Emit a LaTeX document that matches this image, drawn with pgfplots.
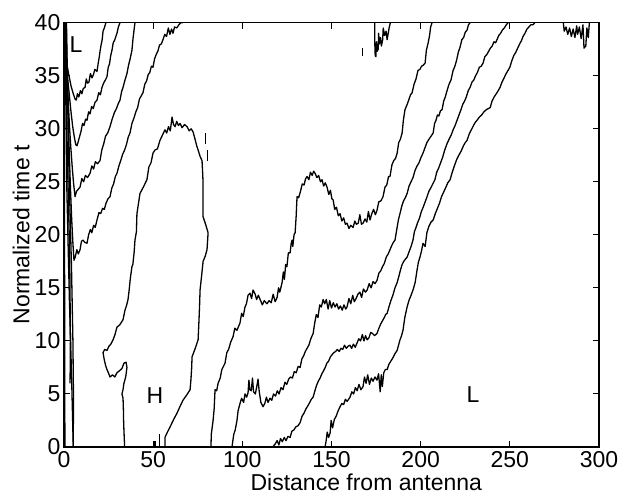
\documentclass[border=0pt]{standalone}
\usepackage{fontspec}
\setmainfont{Liberation Sans}
\usepackage{pgfplots}
\pgfplotsset{compat=1.18}
\begin{document}
\fontsize{23}{27}\selectfont
\begin{tikzpicture}
\begin{axis}[
 at={(0,0)}, anchor=south west,
 width=535pt, height=424.3pt, scale only axis,
 xmin=0,xmax=300,ymin=0,ymax=40,
 xtick={0,50,...,300}, ytick={0,5,...,40},
 tick align=inside, xtick pos=both, ytick pos=both,
 major tick length=6pt,
 axis line style={line width=1.3pt},
 every tick/.style={black, line width=1pt},
 /pgf/number format/assume math mode=true,
 tick label style={font=\fontsize{23}{27}\selectfont, inner sep=1pt},
 xticklabel style={yshift=-3.5pt},
 yticklabel style={xshift=-2.5pt},
 xlabel={Distance from antenna}, ylabel={Normalized time t},
 xlabel style={font=\fontsize{23}{27}\selectfont, at={(axis description cs:0.565,0)}, anchor=north, yshift=-27pt, inner sep=0pt},
 ylabel style={font=\fontsize{23}{27}\selectfont, at={(axis description cs:-0.08,0.5)}, anchor=center},
 cycle list={{black, solid, mark=none, line width=1.3pt}},
 every axis plot post/.append style={black, solid, mark=none, line width=1.3pt, line join=round},
 clip=true,
]
% left U contours
\addplot coordinates {(0.3,40) (0.4,38.5) (0.8,37) (1.7,36) (2.8,35) (4,34) (5.2,33.3) (6.2,32.8) (6.9,32.7) (7.5,33.3) (8.3,33.0) (9.2,33.6) (10,33.3) (10.8,33.8) (11.8,33.9) (12.5,34.7) (13.2,34.3) (14,34.4) (14.8,35.2) (15.7,34.8) (16.5,35.1) (17.3,35.6) (18.5,35.4) (19.2,36.2) (19.8,36.8) (20.2,37.3) (20.8,37.9) (21.4,38.4) (21.9,39.2) (22.6,39.5) (23.5,40)};
\addplot coordinates {(0.6,40) (0.8,38) (1.2,36.5) (1.8,35.2) (2.8,33.5) (3.8,31.8) (4.8,30.3) (5.8,29.2) (6.6,28.5) (7.3,28.4) (8.0,28.8) (8.8,29.3) (9.6,29.8) (10.4,30.5) (11.2,30.3) (12.1,30.9) (12.9,30.8) (13.8,31.6) (14.6,31.4) (15.5,32.1) (16.4,31.9) (17.4,32.5) (18.5,32.7) (19.5,33.4) (20.4,33.2) (21.3,33.9) (22.2,34.3) (23.2,34.6) (24.1,34.9) (24.8,35.8) (25.5,36.1) (26.2,36.9) (26.9,37.4) (27.6,38.1) (28.5,38.4) (29.7,39) (30.5,39.6) (31.4,40)};
\addplot coordinates {(1.0,40) (1.3,37) (1.8,34.5) (2.4,32.5) (3.1,30.2) (3.8,28.3) (4.6,26.4) (5.4,24.8) (6.2,23.6) (7.0,24.1) (8.0,24.3) (9.0,24.5) (10.0,25.3) (11.0,25.0) (12.0,25.6) (13.2,25.4) (14.6,25.8) (15.6,26.5) (16.6,26.2) (17.6,26.9) (18.8,26.7) (20.2,27.0) (21.2,28.0) (22.3,28.6) (23.3,29.3) (24.5,29.6) (25.8,30.2) (27,30.9) (28.2,31.5) (29.4,31.9) (30.5,32.4) (31.4,32.7) (32.3,33.5) (33.1,33.9) (34.2,34.6) (35.3,35.2) (36.2,36.0) (37.1,36.6) (38.1,37.4) (38.7,38.5) (39.2,39.2) (39.8,40)};
\addplot coordinates {(1.4,40) (1.8,36) (2.3,32) (2.9,28) (3.6,24.5) (4.3,21.5) (5.0,19.2) (5.6,17.6) (6.3,17.9) (7.2,18.6) (8.0,18.2) (9.0,18.6) (9.8,19.4) (10.7,19.5) (11.6,19.3) (12.9,19.2) (13.8,20.0) (14.8,20.5) (15.6,20.2) (16.6,20.9) (17.5,20.7) (18.5,21.4) (19.6,22.1) (20.6,22.0) (21.6,22.5) (22.6,22.4) (23.6,23.0) (24.7,23.4) (25.8,23.6) (26.8,24.4) (27.8,24.8) (28.8,25.5) (29.7,25.8) (30.8,26.5) (31.8,27.0) (32.9,27.6) (34.0,28.0) (35.0,28.5) (36.0,29.2) (37.0,29.6) (38.1,30.5) (39.2,31.0) (40.3,31.6) (41.3,32.0) (42.3,32.8) (43.3,33.1) (44.3,33.4) (45.3,34.2) (46.3,34.5) (47.2,35.1) (48.1,35.3) (49.0,35.9) (49.9,35.8) (50.8,36.6) (51.7,37.0) (52.6,37.3) (53.6,37.9) (54.6,38.0) (55.5,38.4) (56.5,38.9) (57.5,38.7) (58.5,39.5) (59.4,38.9) (60.3,39.4) (61.1,39.0) (62,39.6) (63.2,39.5) (64.4,39.8) (65.5,40.0) (66.7,40)};
% left bundle
\addplot coordinates {(0.2,40) (0.3,20) (0.5,0)};
\addplot coordinates {(0.6,40) (1.5,25) (3.0,14) (4.2,7) (5.2,0)};
\addplot coordinates {(1.2,40) (2.8,26) (4.2,17) (5.0,10) (5.3,5) (5.2,0)};
\addplot coordinates {(0.9,40) (1.8,28) (3.2,18) (3.6,10) (3.4,6)};
% H contour
\addplot coordinates {(34.0,0) (33.8,0.8) (33.6,1.6) (33.4,2.6) (33.3,3.6) (33.1,4.6) (32.5,5.0) (33.1,5.4) (33.6,6.0) (34.6,6.6) (35.3,7.5) (34.8,8.0) (33.6,7.9) (32.5,7.4) (31.2,7.2) (29.7,7.0) (28.5,6.6) (27.2,6.8) (25.8,6.6) (24.9,7.0) (24.1,7.3) (23.3,7.7) (22.5,8.3) (21.9,8.9) (22.8,9.2) (24.1,9.1) (25.2,9.5) (26.3,9.7) (27.5,10.1) (28.6,10.6) (29.7,11.3) (31.2,11.5) (33.1,12.0) (34.2,12.9) (35.0,13.3) (35.9,13.9) (36.6,14.9) (37.2,15.9) (38.1,17.0) (38.6,17.2) (39.3,18.3) (39.8,19.5) (40.6,20.3) (40.9,22.0) (41.8,23.0) (42.6,23.9) (44.5,24.5) (46.5,25.2) (47.6,26.4) (48.8,26.8) (49.9,27.7) (51.0,28.0) (52.4,28.1) (53.8,28.9) (55.2,29.4) (56.6,29.9) (57.6,29.6) (58.6,30.2) (59.6,29.8) (60.6,31.1) (61.4,30.4) (62.3,30.2) (63.2,30.7) (64.2,30.3) (65.1,30.5) (66.2,30.1) (67.6,30.4) (69.0,30.2) (70.2,29.8) (71.3,30.0) (72.4,29.7) (73.5,29.0) (74.4,28.4) (75.2,28.0) (76.3,27.4) (77.4,27.0) (77.7,26.0) (78.0,24.9) (78.0,23.3) (78.0,21.7) (79.4,21.0) (80.8,20.2) (80.2,18.6) (79.2,18.0) (78.0,17.5) (77.2,16.2) (76.3,14.8) (76.0,13.2) (75.6,11.6) (75.2,10.1) (73.6,9.3) (71.8,8.5) (71.6,7.5) (71.2,6.4) (70.7,5.4) (68.8,4.9) (66.7,4.4) (65.0,3.8) (63.4,3.2) (61.5,2.6) (59.5,1.9) (58.0,1.4) (56.6,0.9) (56.6,0)};
\addplot coordinates {(51,0) (51,0.6)};
\addplot coordinates {(53.5,0) (53.5,1.2)};
% line 6
\addplot coordinates {(82.4,0) (82.6,1.2) (83.6,2.5) (84.2,3.6) (84.7,5.4) (85.6,5.3) (86.4,6.0) (87.6,6.5) (88.5,7.3) (90.3,7.9) (91.3,8.9) (92.3,9.2) (93.5,9.9) (94.8,10.4) (95.8,11.2) (97.0,11.0) (98.7,11.7) (99.6,12.6) (100.5,12.3) (101.5,13.2) (102.3,13.5) (103.2,14.3) (104.3,14.5) (105.2,14.0) (106.0,14.8) (107.2,14.4) (108.0,13.9) (109.0,14.3) (110.0,13.9) (111.2,13.4) (112.3,13.8) (113.8,13.5) (115.0,13.8) (116.2,13.6) (117.3,14.4) (118.4,13.7) (119.5,14.1) (120.3,15.0) (121.0,14.6) (122.3,15.5) (123.0,16.5) (123.6,15.8) (124.3,17.2) (125.0,17.0) (125.8,18.3) (126.8,18.3) (127.4,19.2) (127.9,19.5) (128.3,18.9) (129.0,20.0) (129.6,20.2) (130.2,21.8) (130.5,23.0) (130.7,23.6) (131.6,23.5) (132.6,24.1) (133.6,24.8) (134.6,24.7) (135.5,25.3) (136.3,25.5) (137.3,25.2) (138.2,25.9) (139.2,25.6) (140.0,26.0) (140.8,25.8) (141.8,25.4) (142.8,25.6) (143.8,25.0) (144.7,25.2) (145.6,24.6) (146.5,24.9) (147.5,24.5) (148.5,23.8) (149.4,24.2) (150.2,23.4) (150.9,23.3) (151.8,22.4) (152.8,22.6) (153.8,21.8) (154.8,22.0) (155.8,21.3) (156.8,21.6) (157.8,21.0) (158.7,21.1) (159.8,20.6) (160.8,20.9) (162.1,20.7) (163.1,21.3) (164.0,21.0) (165.0,21.1) (165.9,21.9) (166.8,21.0) (167.7,21.1) (168.8,21.5) (169.8,21.2) (170.7,22.2) (171.6,21.4) (172.6,22.0) (173.6,22.4) (174.6,21.9) (175.5,22.3) (176.5,23.1) (177.7,23.2) (178.9,23.6) (180.0,24.5) (181.0,24.7) (182.0,25.5) (182.8,25.5) (183.9,26.6) (184.9,27.0) (185.9,27.2) (186.8,27.7) (187.7,28.7) (188.6,29.0) (189.6,29.6) (190.3,30.8) (191.2,31.8) (192.2,32.2) (193.3,32.7) (194.3,33.2) (195.2,33.4) (196.3,34.2) (197.4,34.7) (198.5,35.5) (199.6,35.6) (200.5,35.9) (201.5,36.0) (202.5,36.2) (203.2,37.4) (204.2,38.1) (205.0,38.8) (205.6,39.6) (206.4,40)};
% line 7
\addplot coordinates {(94.2,0) (95.2,1.2) (96.0,1.6) (97.0,2.5) (97.6,3.4) (98.7,4.1) (99.6,4.6) (100.7,4.2) (101.5,5.0) (102.4,4.7) (103.2,5.1) (103.7,6.3) (104.2,5.4) (105.0,5.3) (105.7,6.5) (106.3,5.2) (107.3,5.0) (108.1,5.7) (108.8,6.4) (109.5,5.2) (110.4,4.2) (111.6,3.8) (112.6,4.1) (113.5,4.7) (114.4,4.2) (115.5,4.6) (116.5,4.4) (117.5,5.0) (118.6,4.8) (119.6,5.3) (120.6,5.0) (121.7,5.6) (122.8,5.4) (123.9,6.1) (124.9,5.9) (126.0,6.4) (127.0,6.6) (128.1,6.5) (129.1,7.1) (130.2,7.0) (131.3,7.6) (132.4,7.5) (133.4,8.3) (134.4,8.6) (135.3,9.0) (136.3,9.3) (137.3,9.6) (138.4,10.2) (139.7,10.7) (140.6,11.7) (141.5,12.5) (142.4,12.2) (143.4,13.4) (144.3,13.2) (145.3,13.9) (146.2,13.5) (147.1,13.9) (148.1,13.0) (149.0,13.8) (150.0,13.1) (151.0,13.6) (152.0,13.2) (153.0,13.5) (154.0,13.0) (155.0,13.3) (156.0,12.9) (157.0,13.4) (158.0,13.0) (158.7,13.2) (159.8,14.0) (160.8,13.5) (161.9,14.3) (162.8,13.7) (163.8,14.0) (164.8,14.4) (165.9,14.6) (166.9,14.1) (167.9,14.9) (169.0,14.6) (170.0,14.8) (171.1,15.4) (172.2,15.0) (173.3,15.6) (174.4,15.4) (175.5,15.7) (176.6,16.4) (177.6,16.6) (178.6,17.0) (179.6,17.3) (180.7,17.9) (181.8,18.2) (182.8,18.6) (183.8,19.0) (184.7,19.3) (185.6,19.5) (186.6,20.5) (187.5,21.4) (188.4,22.0) (189.4,22.7) (190.4,23.2) (191.4,23.5) (192.4,23.9) (193.5,24.6) (194.6,25.0) (195.7,25.4) (196.9,26.1) (198.0,26.5) (199.1,26.8) (200.2,27.3) (201.3,27.7) (202.4,28.2) (203.5,28.7) (204.6,29.0) (205.8,29.3) (207.0,29.6) (207.8,30.5) (208.6,30.8) (209.4,31.3) (210.2,31.2) (211.1,31.7) (212.0,31.8) (212.9,32.6) (213.8,33.0) (214.8,33.6) (215.9,34.2) (217.0,34.6) (218.2,35.5) (219.2,35.9) (220.2,36.5) (221.1,37.2) (222.1,37.7) (223.1,38.4) (224.1,38.6) (225.0,39.1) (226.0,39.3) (226.8,39.8) (227.7,40)};
% line 8
\addplot coordinates {(117.0,0) (118.5,0.3) (119.5,0.6) (120.5,0.2) (121.4,0.8) (122.4,0.5) (123.5,0.9) (124.5,0.6) (125.6,1.0) (126.8,0.9) (127.8,1.5) (128.9,1.6) (130.0,1.9) (131.2,2.0) (132.4,2.3) (133.5,2.9) (134.6,3.2) (135.7,3.6) (136.8,3.9) (137.8,4.2) (138.7,4.5) (139.7,4.7) (140.7,5.3) (141.6,5.8) (142.6,6.2) (143.6,6.5) (144.6,6.9) (145.6,7.2) (146.5,7.5) (147.4,7.9) (148.4,8.1) (149.4,8.5) (150.3,8.7) (151.3,8.9) (152.3,9.0) (153.3,9.2) (154.3,9.0) (155.3,9.3) (156.3,9.2) (157.3,9.6) (158.3,9.3) (159.3,9.5) (160.3,9.6) (161.3,9.3) (162.3,9.7) (163.3,9.4) (164.3,9.8) (165.3,10.2) (166.3,10.0) (167.3,10.6) (168.2,10.0) (169.1,10.5) (170.0,10.1) (171.0,10.3) (172.0,10.8) (173.0,10.7) (174.2,10.5) (175.5,10.7) (176.6,11.2) (177.6,11.6) (178.6,11.9) (179.6,12.2) (180.4,12.5) (181.2,12.6) (182.2,13.2) (183.3,13.8) (184.4,14.3) (185.6,15.0) (186.8,15.5) (187.8,16.1) (188.7,16.7) (189.6,17.2) (190.5,17.5) (191.4,17.7) (192.4,17.9) (193.5,18.4) (194.6,18.9) (195.7,19.5) (196.5,20.3) (197.4,20.7) (198.4,21.2) (199.4,21.6) (200.4,22.2) (201.4,22.6) (202.5,23.1) (203.6,23.6) (204.6,24.1) (205.6,24.4) (206.8,24.8) (208.0,25.2) (209.0,25.9) (210.1,26.3) (211.2,26.8) (212.3,27.3) (213.5,28.0) (214.8,28.6) (215.9,29.0) (217.1,29.4) (218.2,29.9) (219.3,30.3) (220.4,30.8) (221.5,31.3) (222.6,31.8) (223.6,32.3) (224.6,32.6) (225.6,33.0) (226.7,33.6) (227.7,33.9) (228.8,34.4) (229.8,34.6) (230.8,35.0) (231.8,35.3) (232.9,35.8) (234.0,35.9) (235.0,36.2) (236.0,36.8) (237.1,37.0) (238.1,37.3) (239.1,37.6) (240.1,37.8) (241.1,38.2) (242.0,38.1) (242.8,38.4) (243.8,38.8) (244.8,39.0) (245.8,39.3) (246.9,39.5) (248.0,39.8) (249.0,40)};
% line 9
\addplot coordinates {(146.4,0) (147.0,0.6) (147.6,1.4) (148.4,0.9) (149.2,1.3) (149.8,2.5) (150.6,1.8) (151.6,2.6) (152.6,2.9) (153.7,3.4) (154.8,3.8) (155.8,4.1) (156.8,4.0) (157.8,4.5) (158.8,4.3) (160.4,4.7) (161.4,5.2) (162.4,5.0) (163.4,5.6) (164.4,5.3) (165.4,5.9) (166.5,5.4) (167.7,5.7) (168.5,6.6) (169.4,6.0) (170.3,6.8) (171.3,5.9) (172.3,6.5) (173.3,6.2) (174.4,6.6) (175.5,6.3) (176.4,6.9) (177.3,5.2) (177.9,6.8) (178.5,5.7) (179.3,7.0) (180.2,7.3) (181.2,7.3) (182.2,7.8) (183.3,8.1) (184.4,8.4) (185.6,8.8) (186.8,9.1) (187.6,9.6) (188.4,10.1) (189.3,10.5) (190.1,11.0) (191.1,12.2) (192.4,13.2) (193.4,13.8) (194.6,14.3) (195.7,14.8) (196.9,15.5) (197.9,16.6) (198.7,17.4) (199.6,17.9) (200.5,18.5) (201.3,19.2) (202.5,18.9) (203.5,20.2) (204.6,20.8) (205.8,21.2) (207.0,21.4) (208.2,22.0) (209.4,22.5) (210.6,23.0) (211.7,23.6) (212.8,24.0) (213.9,24.4) (215.2,24.9) (216.5,25.2) (217.7,25.9) (218.9,26.5) (220.2,27.1) (221.4,27.5) (222.7,27.9) (224.0,28.4) (225.0,28.7) (226.0,28.9) (227.2,29.5) (228.4,29.9) (229.6,30.3) (230.6,30.6) (231.6,30.8) (232.9,31.1) (234.2,31.3) (235.5,31.6) (236.8,31.8) (238.0,31.9) (239.0,32.0) (240.0,32.6) (241.2,33.0) (242.4,33.3) (243.5,33.6) (244.5,33.9) (245.6,34.4) (246.8,34.8) (247.9,35.2) (249.0,35.5) (250.0,35.8) (251.1,36.4) (252.2,36.9) (253.3,37.2) (254.4,37.6) (255.5,38.0) (256.5,38.3) (257.4,38.7) (258.5,39.0) (259.6,39.4) (260.7,39.6) (261.8,39.8) (263.0,39.8) (264.0,40)};
% small top contours and specks
\addplot coordinates {(174.2,40) (174.3,38.0) (174.5,36.9) (174.9,36.8) (175.2,38.2) (175.6,37.3) (176.2,37.5) (176.4,39.0) (176.9,38.0) (177.5,38.6) (178.0,37.8) (178.7,38.4) (179.0,39.5) (179.8,38.8) (180.6,39.2) (181.2,38.4) (181.8,39.0) (182.3,39.5) (183.0,40)};
\addplot coordinates {(280,40) (280.5,39.2) (281.5,39.6) (282.5,38.9) (283.5,39.5) (284.5,38.7) (285.5,39.4) (286.5,38.6) (287.5,39.7) (288,38.9) (289,39.6) (290,38.5) (291,39.8) (291.6,37.6) (292.6,37.8) (293.2,39.5) (294,38.6) (294.6,40)};
\addplot coordinates {(167.5,36.9) (167.5,37.6)};
\addplot coordinates {(79.2,28.6) (79.2,29.6)};
\addplot coordinates {(80.5,27.0) (80.5,28.0)};
\node[font=\fontsize{23}{27}\selectfont] at (axis cs:6.8,37.9) {L};
\node[font=\fontsize{23}{27}\selectfont] at (axis cs:51,4.8) {H};
\node[font=\fontsize{23}{27}\selectfont] at (axis cs:229.4,4.9) {L};
\end{axis}
\pgfresetboundingbox
\useasboundingbox (-64pt,-50pt) rectangle (558pt,447pt);
\end{tikzpicture}
\end{document}
